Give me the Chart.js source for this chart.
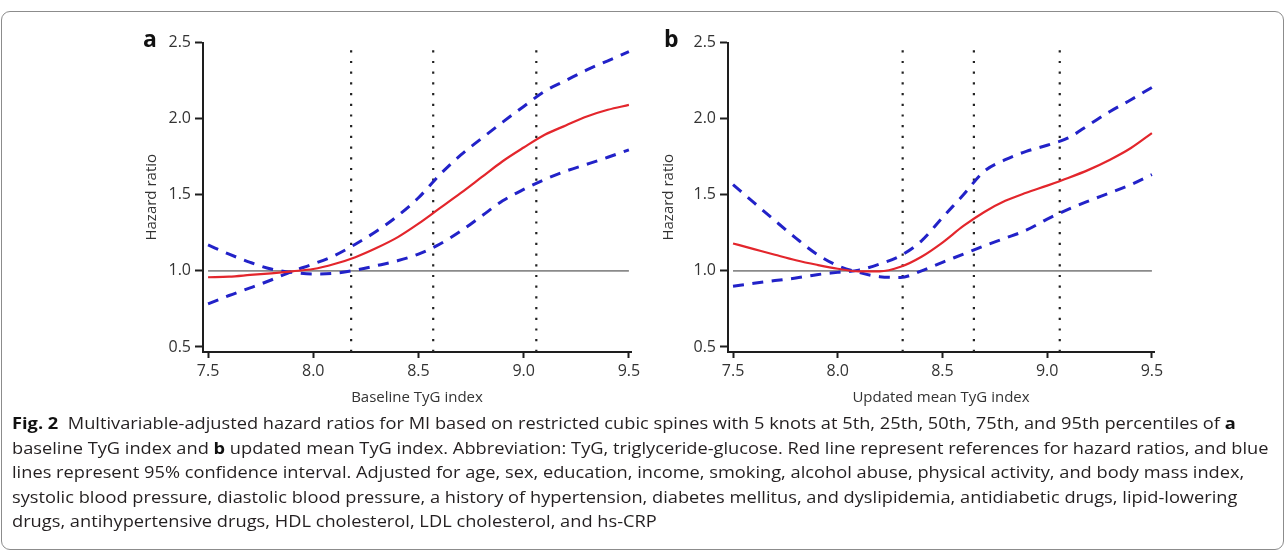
<!DOCTYPE html>
<html>
<head>
<meta charset="utf-8">
<script src="https://cdn.jsdelivr.net/npm/chart.js@4.4.1/dist/chart.umd.min.js"></script>
<style>
  body { margin: 0; width: 1285px; height: 552px; background: #fff; position: relative; overflow: hidden; font-family: "Open Sans", sans-serif; }
  .frame { position: absolute; left: 1px; top: 11px; width: 1281px; height: 537px; border: 1px solid #8c8c8c; border-radius: 9px; }
  canvas { position: absolute; }
  .panel { position: absolute; font: bold 23px "Open Sans", sans-serif; color: #111; line-height: 1; }
  .caption { position: absolute; left: 12px; top: 411px; font-size: 15.5px; color: #231f20; line-height: 24.5px; }
  .caption div { white-space: nowrap; transform-origin: 0 50%; }
  .caption b { color: #111; }
</style>
</head>
<body>
<div class="frame"></div>
<canvas id="chartA" width="545" height="395" style="left:100px;top:20px"></canvas>
<canvas id="chartB" width="545" height="395" style="left:625px;top:20px"></canvas>
<div class="panel" style="left:143px;top:27px">a</div>
<div class="panel" style="left:664px;top:27px">b</div>
<div class="caption" id="caption">
  <div><b>Fig. 2</b>&nbsp; Multivariable-adjusted hazard ratios for MI based on restricted cubic spines with 5 knots at 5th, 25th, 50th, 75th, and 95th percentiles of <b>a</b></div>
  <div>baseline TyG index and <b>b</b> updated mean TyG index. Abbreviation: TyG, triglyceride-glucose. Red line represent references for hazard ratios, and blue</div>
  <div>lines represent 95% confidence interval. Adjusted for age, sex, education, income, smoking, alcohol abuse, physical activity, and body mass index,</div>
  <div>systolic blood pressure, diastolic blood pressure, a history of hypertension, diabetes mellitus, and dyslipidemia, antidiabetic drugs, lipid-lowering</div>
  <div>drugs, antihypertensive drugs, HDL cholesterol, LDL cholesterol, and hs-CRP</div>
</div>
<script>
// TyG index grid used for the spline curves
const tygGrid = [7.5, 7.6, 7.7, 7.8, 7.9, 8.0, 8.1, 8.2, 8.3, 8.4, 8.5, 8.6, 8.7, 8.8, 8.9, 9.0, 9.1, 9.2, 9.3, 9.4, 9.5];

// panel a: baseline TyG index
const hrA    = [0.958, 0.962, 0.973, 0.984, 0.997, 1.012, 1.045, 1.09, 1.15, 1.22, 1.31, 1.41, 1.51, 1.615, 1.72, 1.81, 1.894, 1.955, 2.014, 2.058, 2.09];
const ciUpA  = [0.783, 0.838, 0.888, 0.94, 0.997, 1.045, 1.10, 1.175, 1.26, 1.36, 1.48, 1.63, 1.76, 1.87, 1.977, 2.08, 2.18, 2.25, 2.32, 2.38, 2.44];
const ciLoA  = [1.17, 1.11, 1.056, 1.012, 0.99, 0.98, 0.984, 1.005, 1.034, 1.066, 1.11, 1.175, 1.26, 1.36, 1.46, 1.535, 1.60, 1.655, 1.70, 1.746, 1.795];
const knotsA = [8.18, 8.57, 9.06];

// panel b: updated mean TyG index
const hrB    = [1.18, 1.143, 1.106, 1.07, 1.04, 1.014, 0.997, 0.997, 1.027, 1.093, 1.186, 1.295, 1.387, 1.46, 1.513, 1.56, 1.61, 1.665, 1.73, 1.807, 1.905];
const ciUpB  = [0.899, 0.918, 0.936, 0.953, 0.975, 0.99, 1.005, 1.045, 1.10, 1.197, 1.35, 1.50, 1.655, 1.73, 1.785, 1.825, 1.873, 1.96, 2.047, 2.124, 2.205];
const ciLoB  = [1.567, 1.448, 1.33, 1.215, 1.11, 1.034, 0.99, 0.962, 0.957, 1.0, 1.056, 1.11, 1.165, 1.215, 1.267, 1.34, 1.404, 1.46, 1.513, 1.567, 1.633];
const knotsB = [8.31, 8.65, 9.06];

const xTicks = [7.5, 8.0, 8.5, 9.0, 9.5];
const yTicks = [0.5, 1.0, 1.5, 2.0, 2.5];
const refHR = 1;

const X_MIN = 7.476, X_MAX = 9.51, Y_MIN = 0.467, Y_MAX = 2.5;
const axisColor = '#1e1e1e';
const tickFont = { family: 'Open Sans', size: 16 };
const titleFont = { family: 'Open Sans', size: 15 };

function pts(ys) {
  return tygGrid.map((x, i) => ({ x: x, y: ys[i] }));
}

function makePanel(id, hr, ciUp, ciLo, knots, xTitle, yTitlePad, padRight) {
  const datasets = [
    { data: pts(hr), borderColor: '#e3262c', borderWidth: 2.2, cubicInterpolationMode: 'monotone' },
    { data: pts(ciUp), borderColor: '#2222c8', borderWidth: 3, borderDash: [11, 8.5], cubicInterpolationMode: 'monotone' },
    { data: pts(ciLo), borderColor: '#2222c8', borderWidth: 3, borderDash: [11, 8.5], cubicInterpolationMode: 'monotone' },
    { data: [{ x: 7.5, y: refHR }, { x: 9.5, y: refHR }], borderColor: '#8a8a8a', borderWidth: 1.6 }
  ];
  knots.forEach(k => {
    datasets.push({
      data: [{ x: k, y: Y_MIN }, { x: k, y: Y_MAX }],
      borderColor: '#222', borderWidth: 2.2, borderDash: [2.2, 8.5]
    });
  });

  new Chart(document.getElementById(id), {
    type: 'line',
    data: { datasets: datasets },
    options: {
      responsive: false,
      animation: false,
      devicePixelRatio: 1,
      elements: { point: { radius: 0 } },
      layout: { padding: { top: 22.5, right: padRight, left: 0, bottom: 0 } },
      plugins: { legend: { display: false }, tooltip: { enabled: false } },
      scales: {
        x: {
          type: 'linear',
          min: X_MIN,
          max: X_MAX,
          afterBuildTicks: s => { s.ticks = xTicks.map(v => ({ value: v })); },
          afterFit: s => { s.height = 63; },
          ticks: { callback: v => v.toFixed(1), font: tickFont, color: '#333', padding: 4, maxRotation: 0 },
          grid: { drawOnChartArea: false, tickLength: 6, tickColor: axisColor, tickWidth: 2 },
          border: { color: axisColor, width: 2 },
          title: { display: true, text: xTitle, font: titleFont, color: '#333', padding: { top: 0, bottom: 8 } }
        },
        y: {
          min: Y_MIN,
          max: Y_MAX,
          afterBuildTicks: s => { s.ticks = yTicks.map(v => ({ value: v })); },
          afterFit: s => { s.width = 103; },
          ticks: { callback: v => v.toFixed(1), font: tickFont, color: '#333', padding: 4 },
          grid: { drawOnChartArea: false, tickLength: 8, tickColor: axisColor, tickWidth: 2 },
          border: { color: axisColor, width: 2 },
          title: { display: true, text: 'Hazard ratio', font: titleFont, color: '#333', padding: { top: yTitlePad, bottom: 0 } }
        }
      }
    }
  });
}

makePanel('chartA', hrA, ciUpA, ciLoA, knotsA, 'Baseline TyG index', 43, 14);
makePanel('chartB', hrB, ciUpB, ciLoB, knotsB, 'Updated mean TyG index', 35, 16);

// fit caption lines to the reference text width
const lines = document.querySelectorAll('#caption div');
const targetWidth = 1256;
const natural = lines[0].scrollWidth;
const k = targetWidth / natural;
lines.forEach(d => { d.style.transform = 'scaleX(' + k + ')'; });
</script>
</body>
</html>
